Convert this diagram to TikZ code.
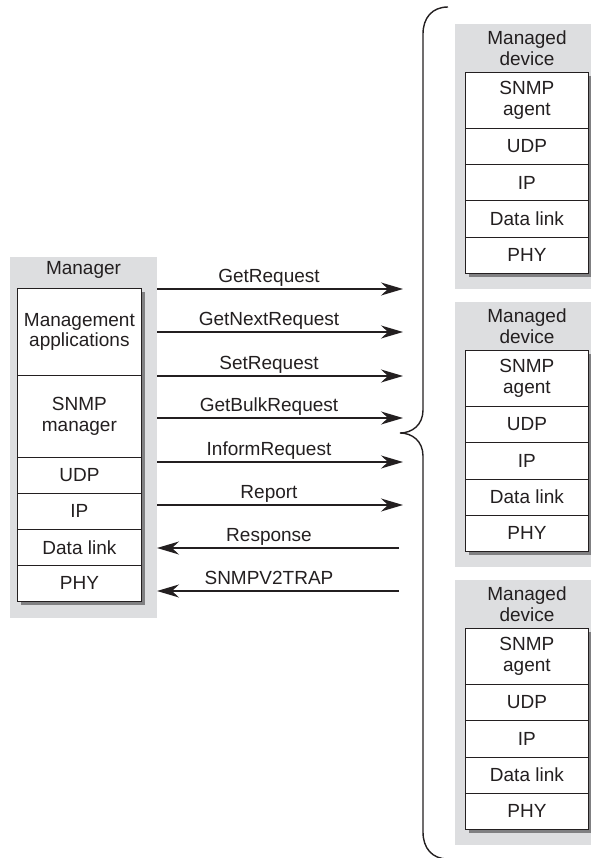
\documentclass[tikz,border=0pt]{standalone}
\usepackage{fontspec}
\setmainfont{Liberation Sans}
\usetikzlibrary{arrows.meta}
\definecolor{bggray}{RGB}{221,222,224}
\definecolor{shadowgray}{RGB}{128,128,130}
\definecolor{ink}{RGB}{35,31,32}
\newcommand{\dfont}{\fontsize{19}{20.5}\selectfont}
\begin{document}
\begin{tikzpicture}[x=1pt,y=-1pt,
  bgbox/.style={fill=bggray},
  shadowbox/.style={fill=shadowgray},
  layer/.style={draw=ink, line width=0.8pt, fill=white, text=ink, align=center,
    font=\dfont, inner sep=0pt, anchor=north west},
  title/.style={text=ink, align=center, font=\dfont, inner sep=0pt},
  msg/.style={draw=ink, line width=1.4pt, -{Stealth[length=22pt,width=13pt,inset=7pt]}},
  msglabel/.style={text=ink, font=\dfont, anchor=base, inner sep=0pt},
  bracestyle/.style={draw=ink, line width=1.4pt}]
\useasboundingbox (0,0) rectangle (590,858);

% ---------- Manager ----------
\fill[bgbox] (10,257) rectangle (157,618);
\node[title] (mgrtitle) at (83.5,270) {Manager};
\fill[shadowbox] (21,292) rectangle (145,605);
\node[layer, minimum width=124pt, minimum height=87pt] (mapp) at (17,288) {Management\\applications};
\node[layer, minimum width=124pt, minimum height=82pt] (msnmp) at (17,375) {SNMP\\manager};
\node[layer, minimum width=124pt, minimum height=36pt] (mudp) at (17,457) {UDP};
\node[layer, minimum width=124pt, minimum height=36pt] (mip) at (17,493) {IP};
\node[layer, minimum width=124pt, minimum height=36pt] (mdl) at (17,529) {Data link};
\node[layer, minimum width=124pt, minimum height=36pt] (mphy) at (17,565) {PHY};

% ---------- Managed devices ----------
\foreach \i/\T in {1/72,2/350,3/628}{
  \fill[bgbox] (455,{\T-48}) rectangle (592,{\T+217});
  \node[title] (d\i title) at (527,{\T-24}) {Managed\\device};
  \fill[shadowbox] (469,{\T+4}) rectangle (592,{\T+205});
  \node[layer, minimum width=123pt, minimum height=56pt] (d\i agent) at (465,\T) {SNMP\\agent};
  \node[layer, minimum width=123pt, minimum height=36.25pt] (d\i udp) at (465,{\T+56}) {UDP};
  \node[layer, minimum width=123pt, minimum height=36.25pt] (d\i ip) at (465,{\T+92.25}) {IP};
  \node[layer, minimum width=123pt, minimum height=36.25pt] (d\i dl) at (465,{\T+128.5}) {Data link};
  \node[layer, minimum width=123pt, minimum height=36.25pt] (d\i phy) at (465,{\T+164.75}) {PHY};
}

% ---------- Messages ----------
\foreach \n/\y/\lab in {1/289/GetRequest,2/332/GetNextRequest,3/376/SetRequest,
    4/418/GetBulkRequest,5/462/InformRequest,6/505/Report}{
  \coordinate (ms\n) at (157,\y);
  \coordinate (me\n) at (403,\y);
  \draw[msg] (ms\n) -- (me\n);
  \node[msglabel] (lab\n) at (269,{\y-7}) {\lab};
}
\foreach \n/\y/\lab in {7/548/Response,8/591/SNMPV2TRAP}{
  \coordinate (ms\n) at (399,\y);
  \coordinate (me\n) at (157,\y);
  \draw[msg] (ms\n) -- (me\n);
  \node[msglabel] (lab\n) at (269,{\y-7}) {\lab};
}

% ---------- Brace ----------
\draw[bracestyle] (448,7) .. controls (432,7) and (423,18) .. (423,34)
  -- (423,410) .. controls (423,425) and (412,433) .. (400,433)
  .. controls (412,433) and (423,441) .. (423,456)
  -- (423,832) .. controls (423,848) and (432,859) .. (448,859);
\end{tikzpicture}
\end{document}
